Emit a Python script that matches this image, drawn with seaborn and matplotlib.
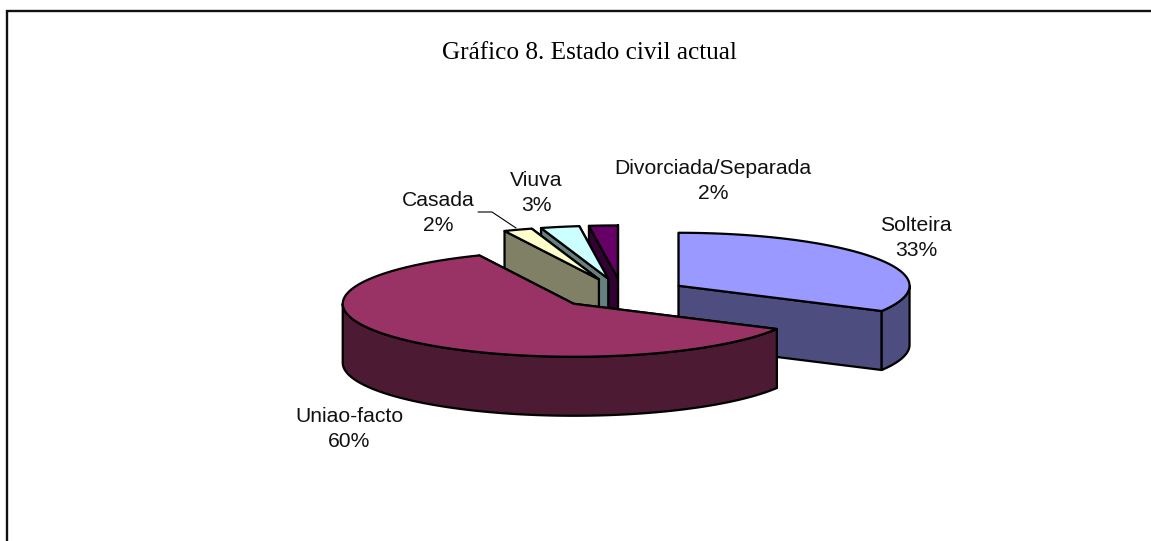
import numpy as np
import matplotlib
matplotlib.use("Agg")
import matplotlib.pyplot as plt
from matplotlib.patches import Polygon
import seaborn as sns

# Datos
categorias = ["Solteira", "Uniao-facto", "Casada", "Viuva", "Divorciada/Separada"]
valores = [32.9, 60.4, 2.0, 2.7, 2.0]
colores = ["#9999FF", "#993366", "#FFFFCC", "#CCFFFF", "#660066"]
titulo = "Gráfico 8. Estado civil actual"

# Geometria del pie en pixeles
cx, cy = 622, 293.5
a, b = 231, 53
prof = 59
explode = 0.285
lw = 1.6

sns.set_theme(style="white")
paleta = sns.color_palette(colores)
plt.rcParams["font.family"] = ["Liberation Sans", "DejaVu Sans"]

fig, ax = plt.subplots(figsize=(11.51, 5.41), dpi=100)
ax.set_position([0, 0, 1, 1])
ax.set_xlim(0, 1151)
ax.set_ylim(541, 0)
ax.axis("off")

# Marco: solo arriba e izquierda, el resto queda cortado
ax.plot([7, 7, 1151], [541, 11, 11], color="#111111", lw=1.7, solid_joinstyle="miter", zorder=0)


def punto(ang, x0, y0):
    return x0 + a * np.sin(np.radians(ang)), y0 - b * np.cos(np.radians(ang))


def dibujar(ang0, ang1, color, z):
    medio = np.radians((ang0 + ang1) / 2)
    x0 = cx + explode * a * np.sin(medio)
    y0 = cy - explode * b * np.cos(medio)
    oscuro = tuple(c * 0.5 for c in color)

    # caras de corte, primero la de atras
    for ang in sorted([ang0, ang1], key=lambda t: punto(t, x0, y0)[1]):
        xr, yr = punto(ang, x0, y0)
        cara = [(x0, y0), (xr, yr), (xr, yr + prof), (x0, y0 + prof)]
        ax.add_patch(Polygon(cara, fc=oscuro, ec="black", lw=lw, joinstyle="round", zorder=z))

    # pared exterior (solo la parte de delante)
    ini, fin = max(ang0, 90), min(ang1, 270)
    if fin > ini:
        t = np.linspace(ini, fin, 80)
        xs, ys = punto(t, x0, y0)
        pared = list(zip(xs, ys)) + list(zip(xs[::-1], ys[::-1] + prof))
        ax.add_patch(Polygon(pared, fc=oscuro, ec="black", lw=lw, joinstyle="round", zorder=z))

    # tapa
    t = np.linspace(ang0, ang1, 80)
    xs, ys = punto(t, x0, y0)
    tapa = [(x0, y0)] + list(zip(xs, ys))
    ax.add_patch(Polygon(tapa, fc=color, ec="black", lw=lw, joinstyle="round", zorder=z))


limites = np.concatenate([[0], np.cumsum(valores)]) * 3.6
orden = [4, 3, 2, 0, 1]
for z, i in enumerate(orden):
    dibujar(limites[i], limites[i + 1], paleta[i], z + 1)

# Etiquetas
pos_etq = [(916, 238), (349, 429), (438, 213), (536, 193), (713, 181)]
for nombre, v, (x, y) in zip(categorias, valores, pos_etq):
    ax.text(x, y, f"{nombre}\n{round(v)}%", ha="center", va="center", fontsize=15.2,
            color="#111111", linespacing=1.42, zorder=10)

# Linea guia de Casada
ax.plot([478, 492, 516], [212, 212, 228], color="black", lw=0.8, zorder=10)

ax.text(589, 53, titulo, ha="center", va="center", fontsize=18.2,
        family=["Liberation Serif", "DejaVu Serif"], color="black")

fig.savefig("out.png", dpi=100)
